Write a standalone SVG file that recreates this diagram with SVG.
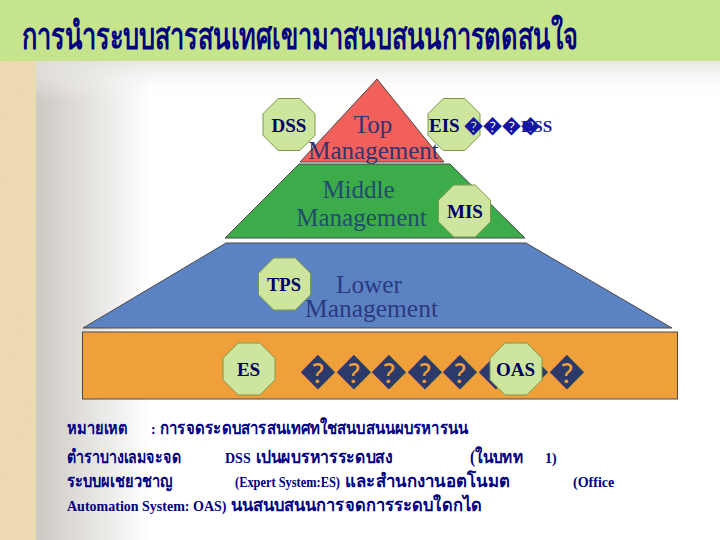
<svg xmlns="http://www.w3.org/2000/svg" xmlns:xlink="http://www.w3.org/1999/xlink" width="720" height="540" viewBox="0 0 720 540">
  <style>
    .oct { fill: #cde59c; stroke: #7d9a4a; stroke-width: 1; }
    .olab { font-family: "Liberation Serif", "Times New Roman", serif; font-weight: bold; font-size: 19px; fill: #000066; text-anchor: middle; }
    .lvl { font-family: "Liberation Serif", "Times New Roman", serif; font-size: 25px; }
    .note { font-family: "Liberation Serif", "Noto Sans", "DejaVu Sans", serif; font-weight: bold; font-size: 14px; fill: #000080; }
    .th { font-size: 18px; }
    .shape { stroke: #4a4a4a; stroke-width: 1; }
  </style>
  <defs>
    <linearGradient id="fadeX" x1="36" y1="0" x2="150" y2="0" gradientUnits="userSpaceOnUse">
      <stop offset="0" stop-color="#cdc9c3"/>
      <stop offset="1" stop-color="#ffffff"/>
    </linearGradient>
    <linearGradient id="fadeY" x1="0" y1="61" x2="0" y2="100" gradientUnits="userSpaceOnUse">
      <stop offset="0" stop-color="#e4e2de" stop-opacity="0.8"/>
      <stop offset="1" stop-color="#ffffff" stop-opacity="0"/>
    </linearGradient>
    <filter id="paper" x="0" y="0" width="1" height="1">
      <feTurbulence type="fractalNoise" baseFrequency="0.15" numOctaves="3" seed="3"/>
      <feColorMatrix type="matrix" values="0 0 0 0 0.85  0 0 0 0 0.72  0 0 0 0 0.50  0 0 0 -1.2 0.9"/>
    </filter>
    <polygon id="octShape" points="-10.8,-26 10.8,-26 26,-10.8 26,10.8 10.8,26 -10.8,26 -26,10.8 -26,-10.8"/>
  </defs>

  <g id="background">
    <rect x="0" y="0" width="720" height="540" fill="#ffffff"/>
    <rect x="36" y="61" width="684" height="479" fill="url(#fadeX)"/>
    <rect x="36" y="61" width="684" height="40" fill="url(#fadeY)"/>
    <rect x="0" y="61" width="36" height="479" fill="#ecd9b0"/>
    <rect x="0" y="61" width="36" height="479" filter="url(#paper)" opacity="0.5"/>
    <rect x="0" y="0" width="720" height="61" fill="#c6e48b"/>
  </g>

  <g id="title">
    <text x="22" y="49" font-family="'Liberation Serif', 'Noto Sans', 'DejaVu Sans', serif" font-weight="bold" font-size="38" fill="#000080" textLength="556" lengthAdjust="spacingAndGlyphs">การนำระบบสารสนเทศเขามาสนบสนนการตดสนใจ</text>
  </g>

  <g id="connectors"></g>

  <g id="top-management">
    <polygon class="shape" points="377,79 444,162 300,162" fill="#f2605b"/>
    <text class="lvl" x="373" y="133" text-anchor="middle" fill="#333370">Top</text>
    <text class="lvl" x="373.5" y="159" text-anchor="middle" fill="#333370">Management</text>
  </g>

  <g id="middle-management">
    <polygon class="shape" points="299,164 450,164 525,238 225,238" fill="#3cab4a"/>
    <text class="lvl" x="358.5" y="197.5" text-anchor="middle" fill="#1f4d6b">Middle</text>
    <text class="lvl" x="361.5" y="226" text-anchor="middle" fill="#1f4d6b">Management</text>
  </g>

  <g id="lower-management">
    <polygon class="shape" points="226,243 526,243 672,328 83,328" fill="#5b82c2"/>
    <text class="lvl" x="369" y="293" text-anchor="middle" fill="#2b3a80" textLength="66" lengthAdjust="spacingAndGlyphs">Lower</text>
    <text class="lvl" x="371.5" y="316.5" text-anchor="middle" fill="#2b3a80" textLength="133" lengthAdjust="spacingAndGlyphs">Management</text>
  </g>

  <g id="operational-level">
    <rect class="shape" x="82.5" y="332" width="595" height="67" fill="#f0a03a" stroke="#6b5a3a"/>
    <text x="300" y="383" font-family="'Liberation Serif', serif" font-weight="bold" font-size="36" fill="#2b3a6b" textLength="284" lengthAdjust="spacingAndGlyphs">��������</text>
  </g>

  <g id="node-dss">
    <use xlink:href="#octShape" class="oct" transform="translate(289,124.5)"/>
    <text class="olab" x="289" y="132" font-size="18">DSS</text>
  </g>

  <g id="node-eis">
    <use xlink:href="#octShape" class="oct" transform="translate(454,124.5)"/>
    <text x="429" y="132" font-family="'Liberation Serif', serif" font-weight="bold" font-size="19" fill="#000066">EIS <tspan fill="#1414a0">����</tspan></text>
    <text x="521" y="132" font-family="'Liberation Serif', serif" font-weight="bold" font-size="17" fill="#1414a0">DSS</text>
  </g>

  <g id="node-mis">
    <use xlink:href="#octShape" class="oct" transform="translate(464.5,211)"/>
    <text class="olab" x="465" y="218">MIS</text>
  </g>

  <g id="node-tps">
    <use xlink:href="#octShape" class="oct" transform="translate(284.5,284)"/>
    <text class="olab" x="284" y="291" textLength="34" lengthAdjust="spacingAndGlyphs">TPS</text>
  </g>

  <g id="node-es">
    <use xlink:href="#octShape" class="oct" transform="translate(249,369)"/>
    <text class="olab" x="248.5" y="376">ES</text>
  </g>

  <g id="node-oas">
    <use xlink:href="#octShape" class="oct" transform="translate(516,369)"/>
    <text class="olab" x="515.5" y="376" textLength="39" lengthAdjust="spacingAndGlyphs">OAS</text>
  </g>

  <g id="notes">
    <text class="note th" x="67" y="434" textLength="61" lengthAdjust="spacingAndGlyphs">หมายเหต</text>
    <text class="note" x="151" y="434">:</text>
    <text class="note th" x="160" y="434" textLength="308" lengthAdjust="spacingAndGlyphs">การจดระดบสารสนเทศทใชสนบสนนผบรหารนน</text>
    <text class="note th" x="67" y="463" textLength="114" lengthAdjust="spacingAndGlyphs">ตำราบางเลมจะจด</text>
    <text class="note" x="225" y="463">DSS</text>
    <text class="note th" x="256" y="463" textLength="137" lengthAdjust="spacingAndGlyphs">เปนผบรหารระดบสง</text>
    <text class="note th" x="470" y="463" textLength="53" lengthAdjust="spacingAndGlyphs">(ในบทท</text>
    <text class="note" x="545" y="463">1)</text>
    <text class="note th" x="67" y="487" textLength="105" lengthAdjust="spacingAndGlyphs">ระบบผเชยวชาญ</text>
    <text class="note" x="235" y="487" textLength="105" lengthAdjust="spacingAndGlyphs">(Expert System:ES)</text>
    <text class="note th" x="345" y="487" textLength="165" lengthAdjust="spacingAndGlyphs">และสำนกงานอตโนมต</text>
    <text class="note" x="573" y="487">(Office</text>
    <text class="note" x="67" y="511">Automation System: OAS)</text>
    <text class="note th" x="231" y="511" textLength="251" lengthAdjust="spacingAndGlyphs">นนสนบสนนการจดการระดบใดกได</text>
  </g>
</svg>
